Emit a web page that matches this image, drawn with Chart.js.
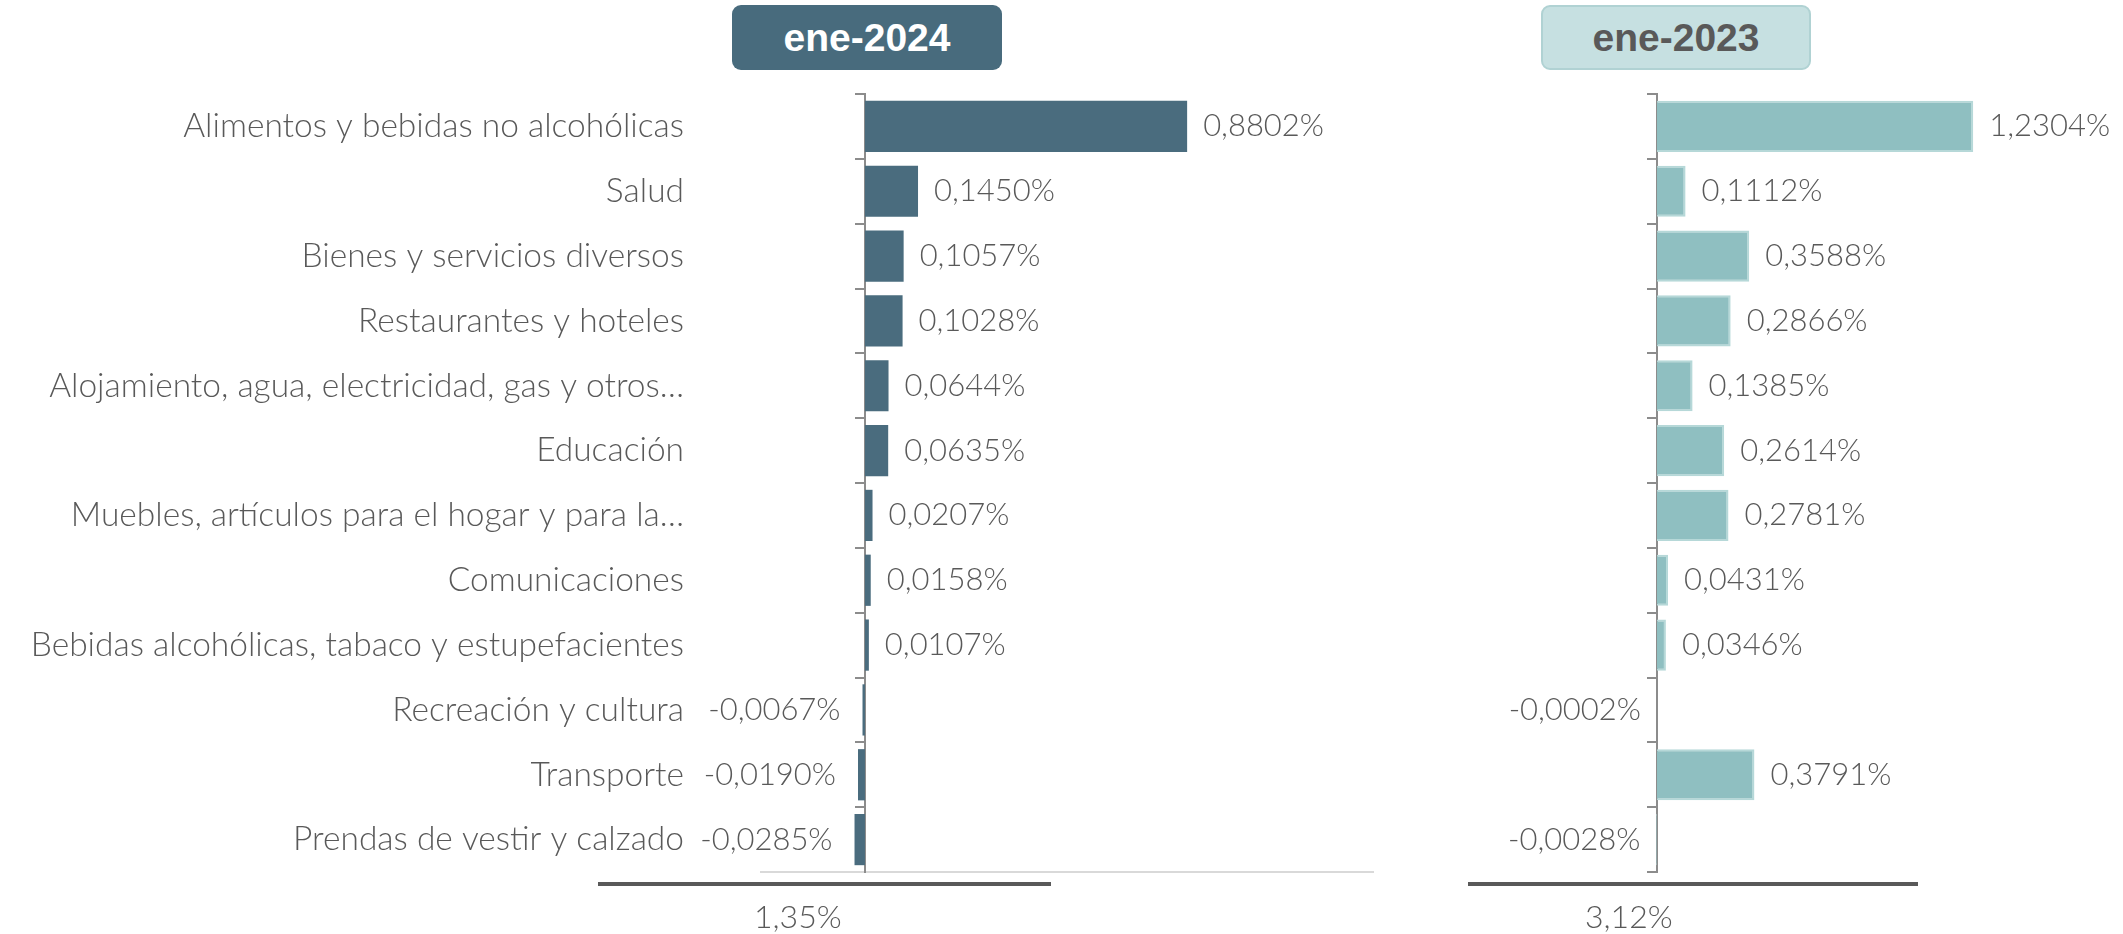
<!DOCTYPE html>
<html lang="es">
<head>
<meta charset="utf-8">
<title>Incidencia por división ene-2024 / ene-2023</title>
<script src="https://cdn.jsdelivr.net/npm/chart.js@4.4.1/dist/chart.umd.min.js"></script>
<style>
  body { margin: 0; background: #fff; width: 2123px; height: 934px; position: relative; overflow: hidden; }
  .caja { position: absolute; top: 5px; height: 65px; width: 270px; border-radius: 9px; box-sizing: border-box;
          font: bold 39px "Liberation Sans", Arial, sans-serif; display: flex; align-items: center; justify-content: center; }
  #t2024 { left: 732px; background: #486b7d; color: #fff; }
  #t2023 { left: 1541px; background: #c6e0e1; color: #595959; border: 2px solid #b0d2d3; }
  canvas { position: absolute; top: 0; }
  #g2024 { left: 0; }
  #g2023 { left: 1420px; }
  .linea { position: absolute; top: 882px; height: 0; border-top: 4px solid #595959; }
  .total { position: absolute; top: 900px; font: 300 32px Lato, sans-serif; line-height: 1; color: #595959; }
</style>
</head>
<body>
<div class="caja" id="t2024">ene-2024</div>
<div class="caja" id="t2023">ene-2023</div>
<canvas id="g2024" width="1420" height="934"></canvas>
<canvas id="g2023" width="703" height="934"></canvas>
<div class="linea" style="left:598px;width:453px"></div>
<div class="linea" style="left:1468px;width:450px"></div>
<div class="total" id="tot2024" style="left:754px"></div>
<div class="total" id="tot2023" style="left:1585px"></div>
<script>
const categorias = [
  "Alimentos y bebidas no alcohólicas",
  "Salud",
  "Bienes y servicios diversos",
  "Restaurantes y hoteles",
  "Alojamiento, agua, electricidad, gas y otros…",
  "Educación",
  "Muebles, artículos para el hogar y para la…",
  "Comunicaciones",
  "Bebidas alcohólicas, tabaco y estupefacientes",
  "Recreación y cultura",
  "Transporte",
  "Prendas de vestir y calzado"
];
const incidencia2024 = [0.8802, 0.1450, 0.1057, 0.1028, 0.0644, 0.0635, 0.0207, 0.0158, 0.0107, -0.0067, -0.0190, -0.0285];
const incidencia2023 = [1.2304, 0.1112, 0.3588, 0.2866, 0.1385, 0.2614, 0.2781, 0.0431, 0.0346, -0.0002, 0.3791, -0.0028];
const totales = [1.35, 3.12];

const gris = "#595959";
const fmt = (v, d) => v.toFixed(d).replace(".", ",") + "%";

document.getElementById("tot2024").textContent = fmt(totales[0], 2);
document.getElementById("tot2023").textContent = fmt(totales[1], 2);

// etiquetas de valor al final de cada barra
const etiquetas = {
  id: "etiquetas",
  afterDatasetsDraw(chart, args, opts) {
    const ctx = chart.ctx;
    const valores = chart.data.datasets[0].data;
    ctx.save();
    ctx.font = "300 31px Lato, sans-serif";
    ctx.fillStyle = gris;
    ctx.textBaseline = "middle";
    chart.getDatasetMeta(0).data.forEach((barra, i) => {
      const v = valores[i];
      if (v >= 0) {
        ctx.textAlign = "left";
        ctx.fillText(fmt(v, 4), Math.max(barra.x, barra.base) + opts.sepPos, barra.y);
      } else {
        ctx.textAlign = "right";
        ctx.fillText(fmt(v, 4), Math.min(barra.x, barra.base) - opts.sepNeg, barra.y);
      }
    });
    ctx.restore();
  }
};

// eje vertical en el cero, con marcas entre categorías
const ejeCero = {
  type: "category",
  axis: "y",
  position: { x: 0 },
  offset: true,
  grid: { offset: true, drawOnChartArea: false, drawTicks: true, tickLength: 9, color: "#8c8c8c", lineWidth: 2 },
  border: { display: true, color: "#8c8c8c", width: 2 },
  ticks: { display: false }
};

new Chart(document.getElementById("g2024"), {
  type: "bar",
  data: {
    labels: categorias,
    datasets: [{
      data: incidencia2024,
      backgroundColor: "#4a6c7e",
      borderWidth: 0,
      barPercentage: 0.79,
      categoryPercentage: 1
    }]
  },
  options: {
    indexAxis: "y",
    responsive: false,
    animation: false,
    layout: { padding: { top: 94, bottom: 62, left: 0, right: 47 } },
    plugins: {
      legend: { display: false },
      tooltip: { enabled: false },
      etiquetas: { sepPos: 16, sepNeg: 22 }
    },
    scales: {
      x: {
        min: -0.284, max: 1.388,
        grid: { display: false, drawTicks: false },
        ticks: { display: false },
        border: { display: true, color: "#d9d9d9", width: 2 }
      },
      y: {
        // marcas invisibles para separar los rótulos del área
        grid: { display: true, drawOnChartArea: false, drawTicks: true, tickLength: 77, color: "rgba(0,0,0,0)" },
        border: { display: false },
        ticks: { padding: 0, color: gris, font: { family: "Lato", size: 33.5, weight: "300" } },
        afterFit(s) { s.width = 761; }
      },
      eje: ejeCero
    }
  },
  plugins: [etiquetas]
});

new Chart(document.getElementById("g2023"), {
  type: "bar",
  data: {
    labels: categorias,
    datasets: [{
      data: incidencia2023,
      backgroundColor: "#8fbfc1",
      borderColor: "#b6d8d8",
      borderWidth: 2,
      barPercentage: 0.79,
      categoryPercentage: 1
    }]
  },
  options: {
    indexAxis: "y",
    responsive: false,
    animation: false,
    layout: { padding: { top: 94, bottom: 62, left: 20, right: 23 } },
    plugins: {
      legend: { display: false },
      tooltip: { enabled: false },
      etiquetas: { sepPos: 16, sepNeg: 16 }
    },
    scales: {
      x: { display: false, min: -0.8444, max: 1.7237 },
      y: Object.assign({}, ejeCero, { type: "category" })
    }
  },
  plugins: [etiquetas]
});
</script>
</body>
</html>
